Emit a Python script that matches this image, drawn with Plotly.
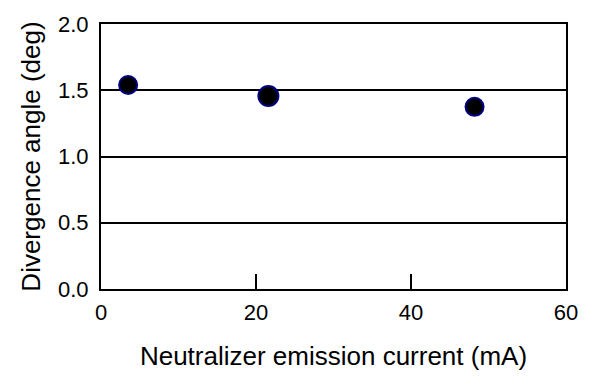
import plotly.graph_objects as go

current_mA = [3.5, 21.6, 48.2]
divergence_deg = [1.54, 1.456, 1.375]
marker_sizes = [18, 20, 18]

x_ticks = [0, 20, 40, 60]
y_ticks = [0.0, 0.5, 1.0, 1.5, 2.0]
y_tick_text = ["0.0", "0.5", "1.0", "1.5", "2.0"]

FONT = "Liberation Sans, Arial, sans-serif"

fig = go.Figure()
fig.add_trace(go.Scatter(
    x=current_mA, y=divergence_deg, mode="markers",
    marker=dict(size=marker_sizes, color="black", opacity=1,
                line=dict(color="#000080", width=2)),
    showlegend=False, cliponaxis=False,
))

fig.update_layout(
    width=590, height=378,
    margin=dict(l=101, r=22, t=20, b=86),
    paper_bgcolor="white", plot_bgcolor="white",
    font=dict(family=FONT, color="black", size=22),
    xaxis=dict(
        range=[0, 60], tickvals=x_ticks, ticktext=[str(v) for v in x_ticks],
        showgrid=False, zeroline=False,
        showline=True, linecolor="black", linewidth=2, mirror=True,
        ticks="inside", ticklen=15, tickwidth=2, tickcolor="black",
        tickfont=dict(size=22), ticklabelstandoff=3,
        title=dict(text="Neutralizer emission current (mA)", font=dict(size=26), standoff=22),
    ),
    yaxis=dict(
        range=[0, 2], tickvals=y_ticks, ticktext=y_tick_text,
        showgrid=True, gridcolor="black", gridwidth=2, zeroline=False,
        showline=True, linecolor="black", linewidth=2, mirror=True,
        ticks="", tickfont=dict(size=22), ticklabelstandoff=6,
        title=dict(text="Divergence angle (deg)", font=dict(size=26), standoff=10),
    ),
)

fig.write_html("out.html")
